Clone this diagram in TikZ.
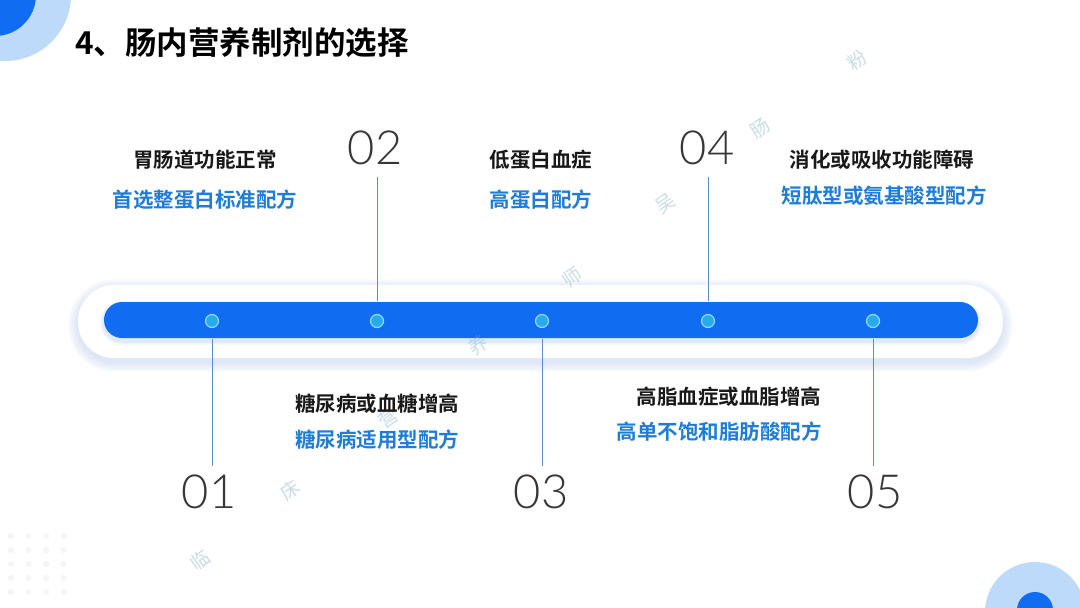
\documentclass[tikz,border=0pt]{standalone}
\usepackage{fontspec}
\setmainfont{Noto Sans CJK SC}
\newfontfamily\cjkb{Noto Sans CJK SC}[UprightFont=* Bold]
\newfontfamily\numfont{Lato}[UprightFont=* Light]
\definecolor{barblue}{RGB}{16,108,240}
\definecolor{ringblue}{RGB}{190,218,250}
\definecolor{dotfill}{RGB}{40,170,240}
\definecolor{dotedge}{RGB}{150,215,255}
\definecolor{linecol}{RGB}{95,140,200}
\definecolor{lblblue}{RGB}{30,125,215}
\definecolor{numgrey}{RGB}{55,55,55}
\definecolor{shadowblue}{RGB}{120,160,235}
\definecolor{wmcol}{RGB}{120,170,200}
\begin{document}
\begin{tikzpicture}[x=1pt,y=-1pt,
  dotnode/.style={circle,fill=dotfill,draw=dotedge,line width=1.2pt,minimum size=13pt,inner sep=0pt},
  numnode/.style={font=\numfont\fontsize{47}{47}\selectfont,text=numgrey,inner sep=0pt},
  headnode/.style={font=\cjkb\fontsize{20.5}{20.5}\selectfont,text=black!90,inner sep=0pt},
  subnode/.style={font=\cjkb\fontsize{20.5}{20.5}\selectfont,text=lblblue,inner sep=0pt},
  vline/.style={draw=linecol,line width=0.9pt},
  wm/.style={font=\fontsize{19}{19}\selectfont,text=wmcol,opacity=0.4,rotate=35,inner sep=0pt},
  gdot/.style={circle,fill=black!4,minimum size=6pt,inner sep=0pt}]
\useasboundingbox (0,0) rectangle (1080,608);
\fill[white] (0,0) rectangle (1080,608);
% corner decorations
\fill[ringblue] (5,-5) circle (66);
\fill[barblue] (-5,-5) circle (41);
\fill[ringblue] (1035,612) circle (50);
\fill[barblue] (1035,610) circle (18);
% faint grid bottom-left
\foreach \i in {0,...,3}{\foreach \j in {0,...,4}{
  \node[gdot] at (11+17.5*\i, 536+14*\j) {};}}
% title
\node[anchor=west,font=\cjkb\fontsize{31.5}{31.5}\selectfont,inner sep=0pt] (title) at (75,43) {4、肠内营养制剂的选择};
% soft shadow of pill
\foreach \k in {1,...,10}{
  \fill[shadowblue,opacity=0.025,rounded corners=36+\k]
    (78-\k,285-\k+4) rectangle (1003+\k,358+\k+4);}
\fill[white,rounded corners=36] (78,285) rectangle (1003,358);
\foreach \k in {1,...,4}{
  \fill[shadowblue,opacity=0.06,rounded corners=18+\k]
    (104-\k,302-\k+3) rectangle (978+\k,338+\k+3);}
\fill[barblue,rounded corners=18] (104,302) rectangle (978,338);
% watermark (behind texts)
\node[wm] (w1) at (200,560) {临};
\node[wm] (w2) at (290,490) {床};
\node[wm] (w3) at (388,418) {营};
\node[wm] (w4) at (478,345) {养};
\node[wm] (w5) at (572,277) {师};
\node[wm] (w6) at (665,203) {吴};
\node[wm] (w7) at (760,128) {肠};
\node[wm] (w8) at (857,60) {粉};
% dots
\node[dotnode] (d1) at (212,321) {};
\node[dotnode] (d2) at (377,321) {};
\node[dotnode] (d3) at (542,321) {};
\node[dotnode] (d4) at (708,321) {};
\node[dotnode] (d5) at (873,321) {};
% numbers
\node[numnode] (n1) at (209,492) {01};
\node[numnode] (n2) at (375,148) {02};
\node[numnode] (n3) at (541,492) {03};
\node[numnode] (n4) at (707,148) {04};
\node[numnode] (n5) at (875,492) {05};
% connector coordinates
\coordinate (b1) at (212,339); \coordinate (e1) at (212,466);
\coordinate (b2) at (377,301); \coordinate (e2) at (377,177);
\coordinate (b3) at (542,339); \coordinate (e3) at (542,466);
\coordinate (b4) at (708,301); \coordinate (e4) at (708,177);
\coordinate (b5) at (873,339); \coordinate (e5) at (873,466);
\foreach \i in {1,...,5}{\draw[vline] (b\i) -- (e\i);}
% labels
\node[headnode] (h1) at (205,160) {胃肠道功能正常};
\node[subnode]  (s1) at (205,200) {首选整蛋白标准配方};
\node[headnode] (h3) at (541,160) {低蛋白血症};
\node[subnode]  (s3) at (541,200) {高蛋白配方};
\node[headnode] (h5) at (882,160) {消化或吸收功能障碍};
\node[subnode]  (s5) at (884,196) {短肽型或氨基酸型配方};
\node[headnode] (h2) at (377,404) {糖尿病或血糖增高};
\node[subnode]  (s2) at (377,440) {糖尿病适用型配方};
\node[headnode] (h4) at (729,397) {高脂血症或血脂增高};
\node[subnode]  (s4) at (719,432) {高单不饱和脂肪酸配方};
\end{tikzpicture}
\end{document}
